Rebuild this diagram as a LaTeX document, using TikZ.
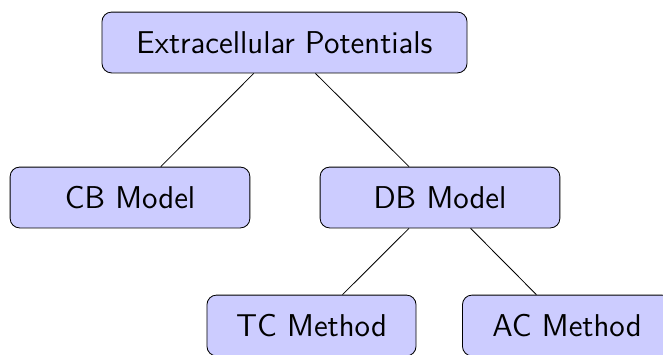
\documentclass[tikz,border=0pt]{standalone}
\usepackage{tikz}

\begin{document}
\begin{tikzpicture}[x=0.0166cm,y=0.0166cm,
  box/.style={draw,rounded corners=4.5pt,fill=blue!20,minimum height=1.01cm,font=\fontsize{14.9pt}{18pt}\selectfont\sffamily},
  rootbox/.style={box,minimum width=6.06cm},
  modelbox/.style={box,minimum width=3.98cm},
  methodbox/.style={box,minimum width=3.47cm}]
\useasboundingbox (0,0) rectangle (663,-354);
% root
\node[rootbox] (extra) at (284.5,-42.5) {Extracellular Potentials};
% models
\node[modelbox] (cb) at (130,-197.5) {CB Model};
\node[modelbox] (db) at (440,-197.5) {DB Model};
% methods under the DB model
\node[methodbox] (tc) at (311.5,-325.5) {TC Method};
\node[methodbox] (ac) at (567,-325.5) {AC Method};
% tree edges
\draw (extra) -- (cb);
\draw (extra) -- (db);
\draw (db) -- (tc);
\draw (db) -- (ac);
\end{tikzpicture}
\end{document}
